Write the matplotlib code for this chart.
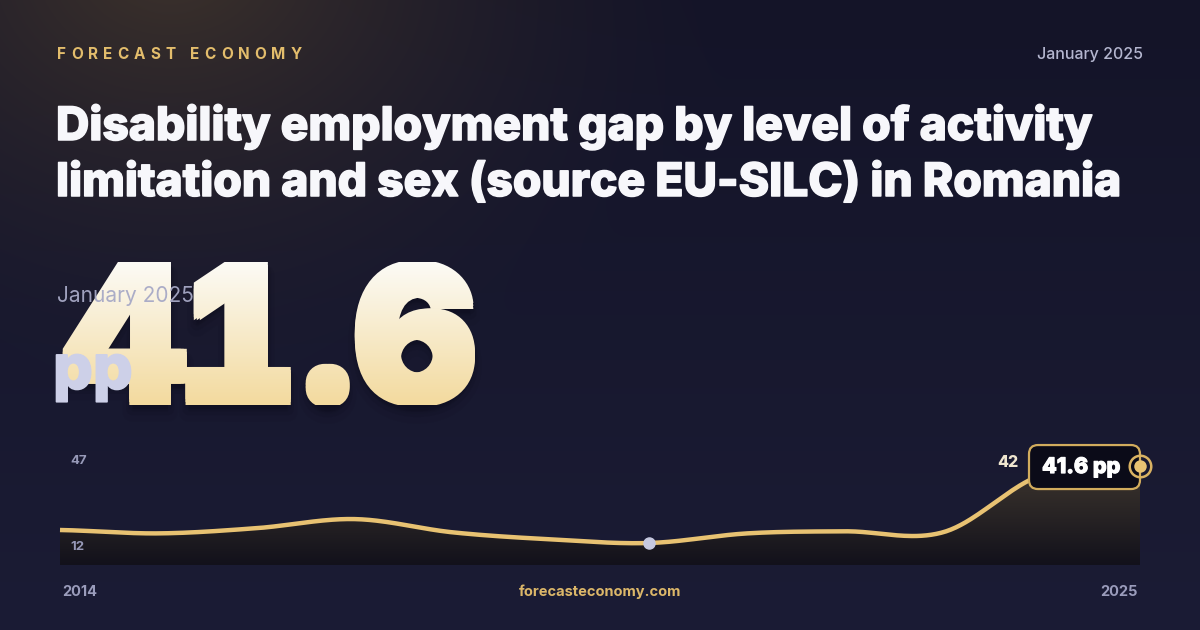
import numpy as np
import matplotlib
matplotlib.use("Agg")
import matplotlib.pyplot as plt
import matplotlib.patheffects as pe
from matplotlib.textpath import TextPath, TextToPath
from matplotlib.patches import PathPatch, FancyBboxPatch, Polygon
from matplotlib.path import Path
from matplotlib.font_manager import FontProperties
from matplotlib.transforms import Affine2D

# data
years = [2014, 2015, 2016, 2017, 2018, 2019, 2020, 2021, 2022, 2023, 2024, 2025]
gap = [17.0, 15.7, 17.7, 21.2, 16.1, 13.4, 12.0, 15.7, 16.5, 16.2, 38.2, 41.6]
axis_labels = ["47", "12"]
axis_values = [47, 12]
first_label, last_label = "2014", "2025"
latest_value = "41.6"
latest_month = "January 2025"
unit = "pp"
brand = "FORECAST ECONOMY"
site = "forecasteconomy.com"
title_lines = ["Disability employment gap by level of activity",
               "limitation and sex (source EU-SILC) in Romania"]

W, H = 1200, 630
GOLD = "#e8c272"
FONT = "Inter"
t2p = TextToPath()


def heavy(color, lw):
    return [pe.withStroke(linewidth=lw, foreground=color)]


fig = plt.figure(figsize=(W / 100, H / 100), dpi=100)

# background: navy with warm glow top-left
bg = fig.add_axes([0, 0, 1, 1])
bg.set_xlim(0, W)
bg.set_ylim(H, 0)
bg.axis("off")
yy, xx = np.mgrid[0:H, 0:W]
t = yy / H
base = np.zeros((H, W, 3))
top_c = np.array([20, 20, 40]) / 255
bot_c = np.array([27, 28, 53]) / 255
for k in range(3):
    base[..., k] = top_c[k] * (1 - t) + bot_c[k] * t
d = np.hypot(xx - 170, (yy + 40) * 1.3)
w = np.clip(1 - d / 580, 0, 1) ** 1.6 * 0.9
glow = np.array([66, 54, 44]) / 255
img = base * (1 - w[..., None]) + glow * w[..., None]
bg.imshow(img, extent=[0, W, H, 0], aspect="auto", zorder=0)

# header: spaced-out brand name, letter by letter
fp_brand = FontProperties(family=FONT, weight=700, size=11)
widths = [t2p.get_text_width_height_descent(c, fp_brand, ismath=False)[0] * 100 / 72 for c in brand]
track = ((302 - 57) - sum(widths[:-1]) - widths[-1]) / (len(brand) - 1)
bx = 57
for c, wc in zip(brand, widths):
    bg.text(bx, 59, c, color="#e3bd6c", fontproperties=fp_brand, va="baseline", ha="left")
    bx += wc + track

bg.text(1143, 59, latest_month, color="#b4b6cf", fontsize=11.5, fontweight=500,
        family=FONT, va="baseline", ha="right")
for i, line in enumerate(title_lines):
    bg.text(56, 140 + i * 56, line, color="#f7f7fb", fontsize=33.2, fontweight=800,
            family=FONT, va="baseline", ha="left", path_effects=heavy("#f7f7fb", 1.1))

# big number with vertical gradient (Inter Black, "1" with a foot)
fp = FontProperties(family=FONT, weight=900)
r = 3
probe = TextPath((0, 0), "4", size=100, prop=fp)
h4 = probe.vertices[:, 1].max() - probe.vertices[:, 1].min()
size = 100 * (143 - 2 * r) / h4
paths = []
for ch in latest_value:
    p = TextPath((0, 0), ch, size=size, prop=fp)
    if ch == "1":
        x0, x1 = p.vertices[:, 0].min(), p.vertices[:, 0].max()
        foot = Path.unit_rectangle().transformed(
            Affine2D().scale((x1 - x0) * 1.3, size * 0.17).translate(x0, 0))
        p = Path.make_compound_path(p, foot)
    paths.append(p)
gw = [p.vertices[:, 0].max() - p.vertices[:, 0].min() for p in paths]
span = (475 - 55) - 2 * r
gsp = (span - sum(gw)) / (len(paths) - 1)
num_base = 405 - r
placed = []
cur = 55 + r
for p, wg in zip(paths, gw):
    tr = Affine2D().translate(cur - p.vertices[:, 0].min(), 0).scale(1, -1).translate(0, num_base)
    placed.append(p.transformed(tr))
    cur += wg + gsp
number = Path.make_compound_path(*placed)

grad = np.linspace(0, 1, 256)[:, None]
c_top = np.array([252, 251, 246]) / 255
c_bot = np.array([243, 218, 158]) / 255
gimg = c_top * (1 - grad[..., None]) + c_bot * grad[..., None]
gimg = np.repeat(gimg, 2, axis=1)
for dy, lw_s, al in [(10, 14, 0.06), (7, 9, 0.08), (4, 6, 0.10)]:
    bg.add_patch(PathPatch(number, transform=Affine2D().translate(0, dy) + bg.transData,
                           facecolor="#07070f", edgecolor="#07070f", lw=lw_s, alpha=al,
                           joinstyle="round", zorder=2))
for ox in (-r, 0, r):
    for oy in (-r, 0, r):
        patch = PathPatch(number, transform=Affine2D().translate(ox, oy) + bg.transData,
                          facecolor="none", edgecolor="none", zorder=3)
        bg.add_patch(patch)
        im = bg.imshow(gimg, extent=[40, 500, 405, 262], aspect="auto", zorder=3)
        im.set_clip_path(patch)

bg.text(57, 302, latest_month, color="#a7a9c6", fontsize=15, family=FONT,
        va="baseline", ha="left", alpha=0.95, zorder=5)
bg.text(53, 389, unit, color="#cdd0e8", fontsize=45, fontweight=800, family=FONT,
        va="baseline", ha="left", zorder=5, path_effects=heavy("#cdd0e8", 1.2))
bg.set_xlim(0, W)
bg.set_ylim(H, 0)

# sparkline
def catmull_rom(x, y, n=40):
    x = np.asarray(x, float)
    y = np.asarray(y, float)
    py = np.r_[y[0], y, y[-1]]
    xs, ys = [], []
    for i in range(1, len(py) - 2):
        s = np.linspace(0, 1, n, endpoint=False)
        m0 = (py[i + 1] - py[i - 1]) / 2
        m1 = (py[i + 2] - py[i]) / 2
        h00 = 2 * s**3 - 3 * s**2 + 1
        h10 = s**3 - 2 * s**2 + s
        h01 = -2 * s**3 + 3 * s**2
        h11 = s**3 - s**2
        ys.append(h00 * py[i] + h10 * m0 + h01 * py[i + 1] + h11 * m1)
        xs.append(x[i - 1] + s * (x[i] - x[i - 1]))
    xs.append([x[-1]])
    ys.append([y[-1]])
    return np.concatenate(xs), np.concatenate(ys)

ax_top_px, ax_bot_px, min_px = 452, 565, 543
ppu = (min_px - ax_top_px) / (max(axis_values) - min(axis_values))
ybot = min(axis_values) - (ax_bot_px - min_px) / ppu
ax = fig.add_axes([60 / W, (H - ax_bot_px) / H, 1080 / W, (ax_bot_px - ax_top_px) / H])
ax.axis("off")
ax.patch.set_alpha(0)

cx, cy = catmull_rom(years, gap)
poly = Polygon(np.c_[np.r_[cx, cx[-1], cx[0]], np.r_[cy, ybot, ybot]], closed=True,
               facecolor="none", edgecolor="none")
ax.add_patch(poly)
fg = np.linspace(0, 1, 256)[:, None]
f_top = np.array([64, 56, 47]) / 255
f_bot = np.array([18, 17, 27]) / 255
fimg = f_top * (1 - fg[..., None]) + f_bot * fg[..., None]
fimg = np.repeat(fimg, 2, axis=1)
fim = ax.imshow(fimg, extent=[years[0], years[-1], ybot, max(gap) + 2], aspect="auto", zorder=1)
fim.set_clip_path(poly)
ax.set_xlim(years[0], years[-1])
ax.set_ylim(ybot, max(axis_values))
ax.plot(cx, cy, color=GOLD, lw=3.2, solid_capstyle="butt", zorder=3, clip_on=False)

imin = int(np.argmin(gap))
ax.plot(years[imin], gap[imin], "o", ms=8, color="#c6c9e0", zorder=4, clip_on=False)

# labels in pixel space
ov = fig.add_axes([0, 0, 1, 1], zorder=5)
ov.set_xlim(0, W)
ov.set_ylim(H, 0)
ov.axis("off")
ov.patch.set_alpha(0)
fig.canvas.draw()
ex, ey = ax.transData.transform((years[-1], gap[-1]))
ey = H - ey
box = FancyBboxPatch((ex - 111, ey - 21), 111, 44, boxstyle="round,pad=0,rounding_size=9",
                     facecolor="#0b0b18", edgecolor="#d2ac5d", lw=1.6, zorder=4)
ov.add_patch(box)
ov.text(ex - 98, ey + 1, f"{latest_value} {unit}", color="white", fontsize=15.5,
        fontweight=800, family=FONT, va="center", ha="left", zorder=5,
        path_effects=heavy("white", 0.8))
ov.text(ex - 122, ey - 4, f"{max(gap):.0f}", color="#efe5cf", fontsize=11.5,
        fontweight=800, family=FONT, va="center", ha="right", zorder=5)
ov.plot(ex, ey, "o", ms=15.5, mfc="none", mec="#d9b262", mew=1.8, zorder=6)
ov.plot(ex, ey, "o", ms=9, color=GOLD, mec="none", zorder=6)

for lab, val in zip(axis_labels, axis_values):
    _, ly = ax.transData.transform((years[0], val))
    ly = H - ly
    ov.text(70, ly + (9 if val == max(axis_values) else 4), lab, color="#9799b8", fontsize=9.5,
            fontweight=700, family=FONT, va="center", ha="left")

ov.text(62, 592, first_label, color="#9a9cbb", fontsize=10.5, fontweight=700,
        family=FONT, va="center", ha="left")
ov.text(1138, 592, last_label, color="#9a9cbb", fontsize=10.5, fontweight=700,
        family=FONT, va="center", ha="right")
ov.text(600, 592, site, color="#dcb769", fontsize=10.5, fontweight=700,
        family=FONT, va="center", ha="center")

fig.savefig("out.png", dpi=100)
